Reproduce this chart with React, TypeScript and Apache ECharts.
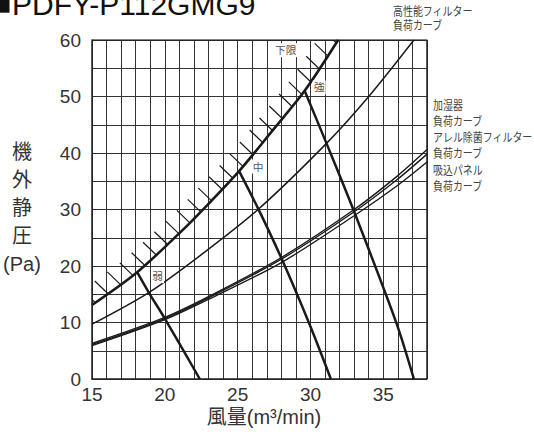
import React, { useEffect, useRef } from "react";
import * as echarts from "echarts";

const xTicks = [15, 20, 25, 30, 35];
const yTicks = [0, 10, 20, 30, 40, 50, 60];

const lowerLimit = [[15, 13.1], [18.1, 18.9], [21.2, 26.3], [22.4, 29.4], [25.1, 36.8], [27.4, 44.0], [29.6, 51.0], [31.9, 60]];
const highPerfFilter = [[15, 9.7], [18.9, 15.3], [22.4, 21.8], [26.4, 30.0], [31.1, 41.7], [34, 50.0], [37.1, 60]];
const humidifier = [[15, 6.3], [20, 10.9], [23.4, 15.1], [28, 21.5], [33, 30.0], [36, 36.0], [38, 40.6]];
const allergenFilter = [[15, 6.1], [20, 10.7], [23.4, 14.9], [28, 21.2], [33, 29.6], [36, 35.4], [38, 39.8]];
const intakePanel = [[15, 5.9], [20, 10.5], [23.4, 14.6], [28, 20.6], [33, 28.9], [36, 34.3], [38, 38.4]];
const fanLow = [[18.1, 18.9], [18.9, 15.3], [20, 10.7], [22.4, 0]];
const fanMid = [[25.1, 36.8], [26.4, 30.2], [28, 21.4], [29.9, 9.9], [31.4, 0]];
const fanHigh = [[29.6, 51.0], [31.1, 41.7], [33, 29.6], [35.9, 9.9], [37.1, 0]];
const curveLabelNames = ["下限", "強", "中", "弱"];
const curveLabelPos = [[28.3, 58.2], [30.6, 51.6], [26.4, 37.6], [19.5, 18.2]];
const rightNotes = [
  ["高性能フィルター", "負荷カーブ"],
  ["加湿器", "負荷カーブ"],
  ["アレル除菌フィルター", "負荷カーブ"],
  ["吸込パネル", "負荷カーブ"],
];
const title = "PDFY-P112GMG9";
const yName = ["機", "外", "静", "圧", "(Pa)"];
const xName = "風量(m³/min)";

const FONT = "'Liberation Sans', 'Noto Sans CJK JP', sans-serif";
const TXT = "#333";

export default function App() {
  const ref = useRef<HTMLDivElement>(null);
  useEffect(() => {
    if (!ref.current) return;
    const chart = echarts.init(ref.current, null, { renderer: "svg" });
    const thick = (data: number[][], w: number) => ({
      type: "line",
      data,
      smooth: 0.3,
      showSymbol: false,
      symbol: "none",
      lineStyle: { color: "#1a1a1a", width: w },
      z: 3,
    });
    const notePos = [
      { x: 393, y: 12 },
      { x: 433, y: 106 },
      { x: 433, y: 138 },
      { x: 433, y: 171 },
    ];
    const graphics: any[] = [
      { type: "rect", shape: { x: -8, y: -6, width: 17.5, height: 18.7 }, style: { fill: "#111" } },
      {
        type: "text",
        x: 12,
        y: 4,
        style: { text: title, font: `30px ${FONT}`, fill: "#111", verticalAlign: "middle" },
      },
    ];
    yName.forEach((t, i) => {
      graphics.push({
        type: "text",
        x: 22,
        y: 152 + i * 28,
        style: { text: t, font: `20px ${FONT}`, fill: TXT, align: "center", verticalAlign: "middle" },
      });
    });
    graphics.push({
      type: "text",
      x: 264,
      y: 417,
      style: { text: xName, font: `20px ${FONT}`, fill: TXT, align: "center", verticalAlign: "middle" },
    });
    rightNotes.forEach((lines, i) => {
      lines.forEach((t, j) => {
        graphics.push({
          type: "text",
          x: notePos[i].x,
          y: notePos[i].y + j * (i === 0 ? 14 : 16),
          scaleX: 0.83,
          style: { text: t, font: `12px ${FONT}`, fill: "#444", verticalAlign: "middle" },
        });
      });
    });

    chart.setOption({
      animation: false,
      color: ["#1a1a1a"],
      grid: { left: 92, top: 40, width: 335, height: 339, show: false },
      xAxis: {
        type: "value",
        min: 15,
        max: 38,
        interval: 1,
        axisLine: { show: true, onZero: false, lineStyle: { color: "#222", width: 1.5 } },
        axisTick: { show: false },
        splitLine: { show: true, lineStyle: { color: "#333", width: 1 } },
        axisLabel: {
          margin: 6,
          fontSize: 19,
          fontFamily: FONT,
          color: TXT,
          formatter: (v: number) => (xTicks.includes(v) ? String(v) : ""),
        },
      },
      yAxis: {
        type: "value",
        min: 0,
        max: 60,
        interval: 5,
        axisLine: { show: true, onZero: false, lineStyle: { color: "#222", width: 1.5 } },
        axisTick: { show: false },
        splitLine: { show: true, lineStyle: { color: "#333", width: 1 } },
        axisLabel: {
          margin: 11,
          fontSize: 19,
          fontFamily: FONT,
          color: TXT,
          formatter: (v: number) => (yTicks.includes(v) ? String(v) : ""),
        },
      },
      graphic: graphics,
      series: [
        {
          type: "line",
          data: [[15, 60], [38, 60], [38, 0]],
          showSymbol: false,
          symbol: "none",
          lineStyle: { color: "#222", width: 1.5 },
          z: 2,
        },
        thick(humidifier, 1.4),
        thick(allergenFilter, 1.4),
        thick(intakePanel, 1.4),
        thick(highPerfFilter, 1.5),
        thick(lowerLimit, 2.6),
        thick(fanLow, 2.5),
        thick(fanMid, 2.5),
        thick(fanHigh, 2.5),
        {
          type: "custom",
          clip: true,
          data: [lowerLimit[0]],
          encode: { x: 0, y: 1 },
          z: 3,
          renderItem: (params: any, api: any) => {
            const pts = lowerLimit.map((p) => api.coord(p));
            const children: any[] = [];
            const step = 15.5;
            let acc = 4;
            for (let i = 0; i < pts.length - 1; i++) {
              const [x0, y0] = pts[i];
              const [x1, y1] = pts[i + 1];
              const len = Math.hypot(x1 - x0, y1 - y0);
              while (acc <= len) {
                const t = acc / len;
                const px = x0 + (x1 - x0) * t;
                const py = y0 + (y1 - y0) * t;
                children.push({
                  type: "line",
                  shape: { x1: px, y1: py, x2: px - 13, y2: py - 12.5 },
                  style: { stroke: "#1a1a1a", lineWidth: 1.2 },
                });
                acc += step;
              }
              acc -= len;
            }
            return { type: "group", children };
          },
        },
        {
          type: "custom",
          data: curveLabelPos,
          encode: { x: 0, y: 1 },
          z: 5,
          itemStyle: { color: "#555" },
          renderItem: (params: any, api: any) => {
            const [px, py] = api.coord([api.value(0), api.value(1)]);
            const name = curveLabelNames[params.dataIndex];
            const w = name.length * 11 + 2;
            return {
              type: "group",
              children: [
                {
                  type: "rect",
                  shape: { x: px - w / 2, y: py - 7, width: w, height: 14 },
                  style: { fill: "#ffffff", stroke: "none" },
                },
                {
                  type: "text",
                  x: px,
                  y: py,
                  scaleX: 0.97,
                  scaleY: 0.97,
                  style: {
                    text: name,
                    font: `11px ${FONT}`,
                    fill: "#555555",
                    stroke: "none",
                    lineWidth: 0,
                    align: "center",
                    verticalAlign: "middle",
                  },
                },
              ],
            };
          },
        },
      ],
    });
    return () => chart.dispose();
  }, []);
  return <div ref={ref} style={{ position: "absolute", left: 0, top: 0, width: 534, height: 432 }} />;
}
